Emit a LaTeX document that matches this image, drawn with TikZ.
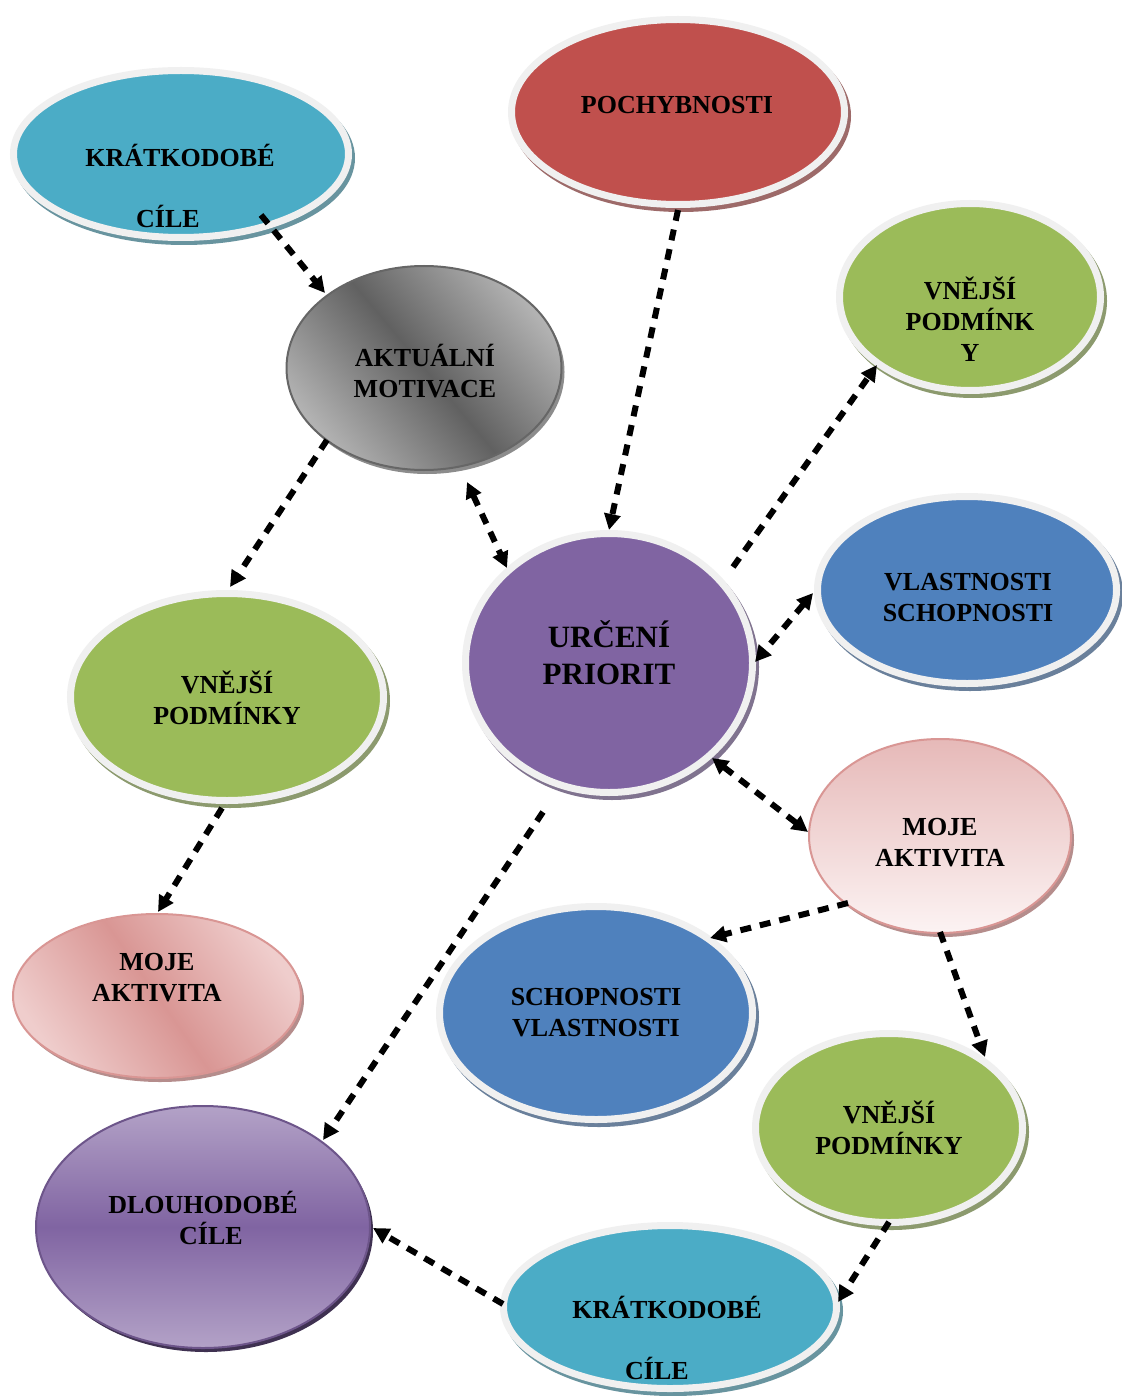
\documentclass[tikz,border=0pt]{standalone}
\usepackage{fontspec}
\setmainfont{Liberation Serif}
\usetikzlibrary{arrows.meta,calc,shapes.geometric}
\definecolor{cteal}{HTML}{4BACC6}
\definecolor{cred}{HTML}{C0504D}
\definecolor{cgreen}{HTML}{9BBB59}
\definecolor{cblue}{HTML}{4F81BD}
\definecolor{cpurple}{HTML}{8064A2}
\definecolor{cborder}{HTML}{F0F0F0}
\definecolor{pinkA}{HTML}{E6B9B8}
\definecolor{pinkB}{HTML}{FCF3F3}
\definecolor{pinkC}{HTML}{D99694}
\definecolor{pinkL}{HTML}{EFCDCC}
\definecolor{purL}{HTML}{B3A2C7}
\definecolor{purD}{HTML}{3F3151}
\begin{document}
\begin{tikzpicture}[x=1pt,y=-1pt,
  bub/.style={ellipse, draw=cborder, line width=7pt, fill=#1, outer sep=0pt, inner sep=0pt,
    preaction={fill=#1!45!gray, draw=#1!45!gray, line width=7pt,
      transform canvas={shift={(3pt,-4pt)}}}},
  flat/.style={ellipse, draw=#1, line width=2pt, outer sep=0pt, inner sep=0pt},
  lbl/.style={font=\bfseries\fontsize{26}{31}\selectfont, align=center, inner sep=0pt},
  arr/.style={line width=6pt, dash pattern=on 11pt off 9pt,
    -{Triangle[length=16pt,width=16pt]}},
  dbl/.style={line width=6pt, dash pattern=on 11pt off 9pt,
    {Triangle[length=16pt,width=16pt]}-{Triangle[length=16pt,width=16pt]}}
]
\fill[white] (0,0) rectangle (1121,1396);
\useasboundingbox (0,0) rectangle (1121,1396);

% ellipses
\node[bub=cteal, minimum width=335pt, minimum height=167pt] (e1) at (181,154) {};
\node[bub=cred, minimum width=333pt, minimum height=185pt] (e2) at (678,112) {};
\node[flat=black!60, minimum width=275pt, minimum height=204pt,
  top color=black!30, bottom color=black!30, middle color=black!62, shading angle=-50,
  preaction={fill=black!45, transform canvas={shift={(3pt,-4pt)}}}] (e3) at (424,368) {};
\node[bub=cgreen, minimum width=261pt, minimum height=187pt] (e4) at (970,297) {};
\node[bub=cblue, minimum width=299pt, minimum height=187pt] (e5) at (967,590) {};
\node[bub=cpurple, minimum width=287pt, minimum height=259pt] (e6) at (609,663) {};
\node[bub=cgreen, minimum width=313pt, minimum height=207pt] (e7) at (227,697) {};
\node[flat=pinkC, minimum width=262pt, minimum height=194pt,
  top color=pinkA, bottom color=pinkB,
  preaction={fill=pinkC!60!gray, transform canvas={shift={(3pt,-4pt)}}}] (e8) at (940,836) {};
\node[flat=pinkC, minimum width=288pt, minimum height=164pt,
  top color=pinkL, bottom color=pinkL, middle color=pinkC, shading angle=-55,
  preaction={fill=pinkC!60!gray, transform canvas={shift={(3pt,-4pt)}}}] (e9) at (157,996) {};
\node[bub=cblue, minimum width=313pt, minimum height=213pt] (e10) at (596,1013) {};
\node[bub=cgreen, minimum width=267pt, minimum height=189pt] (e11) at (889,1128) {};
\node[flat=cpurple!85!black, minimum width=334pt, minimum height=242pt,
  top color=purL, bottom color=purL, middle color=cpurple,
  preaction={fill=purD, transform canvas={shift={(3pt,-4pt)}}}] (e12) at (203,1227) {};
\node[bub=cteal, minimum width=333pt, minimum height=163pt] (e13) at (670,1307) {};

% labels
\node[lbl] (t1a) at (180,155) {KRÁTKODOBÉ};
\node[lbl] (t1b) at (168,216) {CÍLE};
\node[lbl] (t2) at (677,105) {POCHYBNOSTI};
\node[lbl] (t3) at (425,371) {AKTUÁLNÍ\\MOTIVACE};
\node[lbl] (t4) at (970,319) {VNĚJŠÍ\\PODMÍNK\\Y};
\node[lbl] (t5) at (968,598) {VLASTNOSTI\\SCHOPNOSTI};
\node[lbl, font=\bfseries\fontsize{31}{37}\selectfont] (t6) at (609,653) {URČENÍ\\PRIORIT};
\node[lbl] (t7) at (227,698) {VNĚJŠÍ\\PODMÍNKY};
\node[lbl] (t8) at (940,843) {MOJE\\AKTIVITA};
\node[lbl] (t9) at (157,978) {MOJE\\AKTIVITA};
\node[lbl] (t10) at (596,1013) {SCHOPNOSTI\\VLASTNOSTI};
\node[lbl] (t11) at (889,1128) {VNĚJŠÍ\\PODMÍNKY};
\node[lbl] (t12) at (203,1218) {DLOUHODOBÉ\\\hspace*{16pt}CÍLE};
\node[lbl] (t13a) at (667,1307) {KRÁTKODOBÉ};
\node[lbl] (t13b) at (657,1368) {CÍLE};

% connectors
\draw[arr] ($(e1)+(80,61)$) -- ($(e3)+(-99,-75)$);
\draw[arr] ($(e2)+(0,98)$) -- ($(e6)+(0,-133)$);
\draw[arr] ($(e6)+(124,-96)$) -- ($(e4)+(-93,68)$);
\draw[dbl] ($(e3)+(43,114)$) -- ($(e6)+(-102,-95)$);
\draw[dbl] ($(e5)+(-154,3)$) -- ($(e6)+(146,-1)$);
\draw[dbl] ($(e6)+(103,95)$) -- ($(e8)+(-132,-4)$);
\draw[arr] ($(e3)+(-97,72)$) -- ($(e7)+(3,-110)$);
\draw[arr] ($(e7)+(-5,111)$) -- ($(e9)+(1,-84)$);
\draw[arr] ($(e6)+(-66,149)$) -- ($(e12)+(120,-87)$);
\draw[arr] ($(e8)+(-92,67)$) -- ($(e10)+(114,-75)$);
\draw[arr] ($(e8)+(0,96)$) -- ($(e11)+(96,-71)$);
\draw[arr] ($(e11)+(0,94)$) -- ($(e13)+(168,-5)$);
\draw[arr] ($(e13)+(-167,-3)$) -- ($(e12)+(170,1)$);
\end{tikzpicture}
\end{document}
